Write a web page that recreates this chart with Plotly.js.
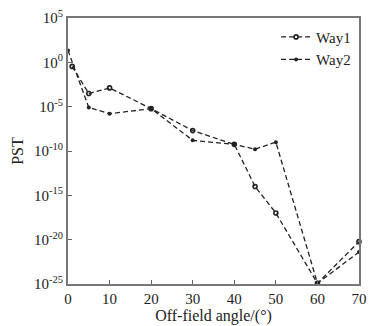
<!DOCTYPE html>
<html><head><meta charset="utf-8">
<script src="https://cdn.plot.ly/plotly-3.0.1.min.js"></script>
<style>html,body{margin:0;padding:0;background:#fff}#c{width:370px;height:326px}</style>
</head><body><div id="c"></div>
<script>
// Off-field angle (degrees)
const way1X = [1, 5, 10, 20, 30, 40, 45, 50, 60, 70];
const way2X = [0, 5, 10, 20, 30, 40, 45, 50, 60, 70];
// PST values
const way1Y = [3.5e-1, 3e-4, 1.3e-3, 6e-6, 2e-8, 5.6e-10, 1e-14, 1e-17, 1.2e-25, 6e-21];
const way2Y = [2.2e1, 8e-6, 1.6e-6, 6e-6, 1.6e-9, 5.6e-10, 1.6e-10, 1e-9, 1.2e-25, 4e-22];
const xTicks = [0, 10, 20, 30, 40, 50, 60, 70];
const yTickVals = [1e5, 1e0, 1e-5, 1e-10, 1e-15, 1e-20, 1e-25];
const yTickText = ['10<sup>5</sup>', '10<sup>0</sup>', '10<sup>-5</sup>', '10<sup>-10</sup>',
                   '10<sup>-15</sup>', '10<sup>-20</sup>', '10<sup>-25</sup>'];

const fam = 'Liberation Serif, Times New Roman, serif';
const font = {family: fam, color: '#222', size: 14};
const line = {color: '#222', width: 1.3, dash: '5px,3px'};

Plotly.newPlot('c', [
  {x: way1X, y: way1Y, name: 'Way1', mode: 'lines+markers', line: line,
   marker: {symbol: 'circle-open', size: 4, color: '#222', line: {width: 1.6, color: '#222'}}, cliponaxis: false},
  {x: way2X, y: way2Y, name: 'Way2', mode: 'lines+markers', line: line,
   marker: {symbol: 'circle', size: 4, color: '#222'}, cliponaxis: false}
], {
  width: 370, height: 326,
  margin: {l: 68, r: 11, t: 18, b: 42},
  paper_bgcolor: '#fff', plot_bgcolor: '#fff',
  font: font,
  showlegend: true,
  legend: {x: 0.99, y: 0.99, xanchor: 'right', yanchor: 'top', bgcolor: 'rgba(0,0,0,0)',
           font: {family: fam, size: 15, color: '#222'}, tracegroupgap: 0},
  xaxis: {range: [0, 70], tickvals: xTicks, ticks: 'inside', ticklen: 4, tickcolor: '#666',
          showline: true, linecolor: '#777', linewidth: 2, mirror: true, showgrid: false, zeroline: false,
          title: {text: 'Off-field angle/(°)', font: {family: fam, size: 16, color: '#222'}, standoff: 2},
          tickfont: {family: fam, size: 15, color: '#222'}},
  yaxis: {type: 'log', range: [-25, 5], tickvals: yTickVals, ticktext: yTickText, ticks: 'inside', ticklen: 4, tickcolor: '#666',
          showline: true, linecolor: '#777', linewidth: 2, mirror: true, showgrid: false, zeroline: false,
          title: {text: 'PST', font: {family: fam, size: 16, color: '#222'}, standoff: 6},
          tickfont: {family: fam, size: 15, color: '#222'}}
}, {displayModeBar: false, staticPlot: true});
</script>
</body></html>
